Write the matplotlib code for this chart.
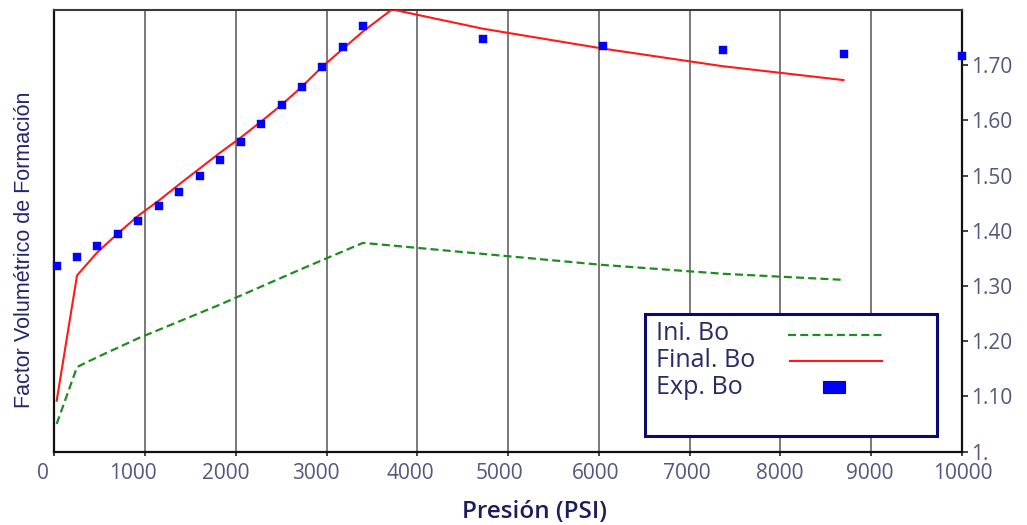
import numpy as np
import matplotlib
matplotlib.use("Agg")
import matplotlib.pyplot as plt
from matplotlib.patches import Rectangle
from matplotlib.lines import Line2D
from matplotlib.transforms import ScaledTranslation

# pressure (psi) and formation volume factor
p_exp = [26, 250, 474, 699, 923, 1154, 1375, 1603, 1823, 2055, 2279, 2503,
         2727, 2951, 3175, 3400, 4723, 6046, 7369, 8695, 10000]
bo_exp = [1.337, 1.353, 1.373, 1.394, 1.418, 1.444, 1.470, 1.499, 1.529, 1.560,
          1.593, 1.627, 1.661, 1.697, 1.733, 1.771, 1.747, 1.734, 1.727, 1.720, 1.716]

p_final = [26, 250, 474, 699, 923, 1154, 1375, 1603, 1823, 2055, 2279, 2503,
           2727, 2951, 3175, 3400, 3720, 4723, 6046, 7369, 8695]
bo_final = [1.092, 1.319, 1.361, 1.395, 1.427, 1.455, 1.484, 1.513, 1.541, 1.569,
            1.598, 1.628, 1.661, 1.697, 1.729, 1.761, 1.801, 1.766, 1.730, 1.698, 1.673]

p_ini = [26, 250, 474, 923, 1823, 2727, 3400, 4723, 6046, 7369, 8695]
bo_ini = [1.050, 1.153, 1.171, 1.205, 1.266, 1.331, 1.378, 1.358, 1.338, 1.322, 1.311]

xticks = [0, 1000, 2000, 3000, 4000, 5000, 6000, 7000, 8000, 9000, 10000]
# small sideways shift (px) of each pressure label
xlabel_shift = [-11, -12, -10, -11, -7, -9, -3, -3, -1, -1.5, 1]
yticks = [1.0, 1.1, 1.2, 1.3, 1.4, 1.5, 1.6, 1.7]
ytick_labels = ['1.', '1.10', '1.20', '1.30', '1.40', '1.50', '1.60', '1.70']

navy = '#1c1c5e'
tick_col = '#55557f'
plt.rcParams['font.family'] = ['Open Sans', 'DejaVu Sans']

fig = plt.figure(figsize=(10.27, 5.25), dpi=100)
ax = fig.add_axes([0.0529, 0.140, 0.8838, 0.841])

for x in xticks[1:-1]:
    ax.axvline(x, color='#6e6e6e', lw=1.3, zorder=1)

ax.plot(p_ini, bo_ini, color='#1f8c1f', lw=1.6, ls=(0, (3.6, 1.9)), zorder=3)
ax.plot(p_final, bo_final, color='#ff1a1a', lw=1.5, zorder=4)
ax.plot(p_exp, bo_exp, 's', color='#0000ff', ms=5.8, mec='#0000ff', mew=0.3,
        zorder=5, clip_on=False)

ax.set_xlim(0, 10000)
ax.set_ylim(1.0, 1.8)
ax.set_xticks(xticks)
ax.set_xticklabels([str(x) for x in xticks])
ax.yaxis.tick_right()
ax.set_yticks(yticks)
ax.set_yticklabels(ytick_labels)
ax.tick_params(axis='x', length=3, width=1.2, direction='out', pad=5,
               labelsize=15, labelcolor=tick_col, color='#222222')
ax.tick_params(axis='y', length=4.5, width=1.2, direction='out', pad=2,
               labelsize=15, labelcolor=tick_col, color='#222222')
for lab, dx in zip(ax.get_xticklabels(), xlabel_shift):
    lab.set_transform(lab.get_transform() + ScaledTranslation(dx / 100, 0, fig.dpi_scale_trans))

for side in ['left', 'bottom', 'right']:
    ax.spines[side].set_color('#111111')
    ax.spines[side].set_linewidth(1.6)
ax.spines['top'].set_color('#3a3a3a')
ax.spines['top'].set_linewidth(1.5)

ax.set_xlabel('Presión (PSI)', fontsize=17.5, fontweight='semibold', color=navy)
ax.xaxis.label.set_va('center')
ax.xaxis.set_label_coords(0.5287, -0.138)
fig.text(0.024, 0.524, 'Factor Volumétrico de Formación', rotation=90,
         ha='center', va='center', fontsize=15.5, color='#25256e',
         family=['Liberation Sans', 'DejaVu Sans'])

# legend box
ax.add_patch(Rectangle((0.651, 0.034), 0.3215, 0.2775, transform=ax.transAxes,
                       facecolor='white', edgecolor='#0a0a6e', lw=2.2, zorder=6))
leg_col = '#2a2a66'
for label, y in [('Ini. Bo', 0.268), ('Final. Bo', 0.207), ('Exp. Bo', 0.146)]:
    ax.text(0.663, y, label, transform=ax.transAxes, fontsize=18,
            color=leg_col, va='center', zorder=7)
ax.add_line(Line2D([0.808, 0.912], [0.264, 0.264], transform=ax.transAxes,
                   color='#1f8c1f', lw=1.6, ls=(0, (3.6, 1.9)), zorder=7))
ax.add_line(Line2D([0.811, 0.912], [0.206, 0.206], transform=ax.transAxes,
                   color='#ff1a1a', lw=1.5, zorder=7))
ax.add_patch(Rectangle((0.847, 0.132), 0.024, 0.028, transform=ax.transAxes,
                       facecolor='#0000ff', edgecolor='#10104a', lw=0.8, zorder=7))

fig.savefig('out.png', dpi=100)
